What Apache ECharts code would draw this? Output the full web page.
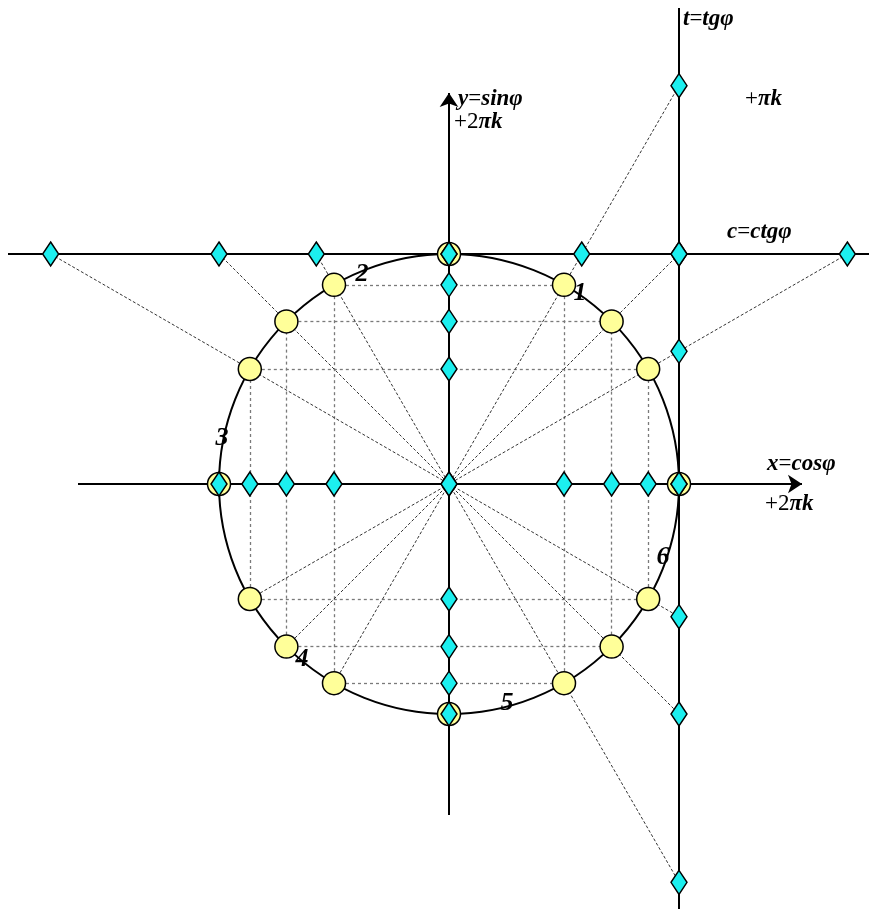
<!DOCTYPE html>
<html><head><meta charset="utf-8">
<script src="https://cdn.jsdelivr.net/npm/echarts@6/dist/echarts.min.js"></script>
<style>html,body{margin:0;padding:0;background:#fff}#c{width:869px;height:909px}</style>
</head><body><div id="c"></div>
<script>
// ---- data ----
const angles    = [0, 30, 45, 60, 90, 120, 135, 150, 180, 210, 225, 240, 270, 300, 315, 330];
const cosValues = [1, 0.866, 0.707, 0.5, 0, -0.5, -0.707, -0.866, -1, -0.866, -0.707, -0.5, 0, 0.5, 0.707, 0.866];
const sinValues = [0, 0.5, 0.707, 0.866, 1, 0.866, 0.707, 0.5, 0, -0.5, -0.707, -0.866, -1, -0.866, -0.707, -0.5];
const cosAxisMarks = [-1, -0.866, -0.707, -0.5, 0, 0.5, 0.707, 0.866, 1];
const sinAxisMarks = [-1, -0.866, -0.707, -0.5, 0, 0.5, 0.707, 0.866, 1];
const tanValues = [1.732, 1, 0.577, 0, -0.577, -1, -1.732];
const ctgValues = [-1.732, -1, -0.577, 0, 0.577, 1, 1.732];
// radial lines: [start point, end point]
const radialLines = [
  [[1.732, 1], [-0.866, -0.5]],
  [[1, 1], [-0.707, -0.707]],
  [[1, 1.732], [-0.5, -0.866]],
  [[-0.577, 1], [1, -1.732]],
  [[-1, 1], [1, -1]],
  [[-1.732, 1], [1, -0.577]]
];
const pointNumbers = ['1', '2', '3', '4', '5', '6'];

// ---- layout ----
const W = 869, H = 909, CX = 449, CY = 484, R = 230;
const FONT = '"Liberation Serif", "Times New Roman", serif';

// projection (grey dotted) lines from the 30/45/60 degree points
const projection = [];
[1, 2, 3].forEach(i => {
  const c = cosValues[i], s = sinValues[i];
  projection.push({coords: [[-c, s], [c, s]]});
  projection.push({coords: [[-c, -s], [c, -s]]});
  projection.push({coords: [[c, -s], [c, s]]});
  projection.push({coords: [[-c, -s], [-c, s]]});
});

const diamondData = []
  .concat(cosAxisMarks.map(v => [v, 0]))
  .concat(sinAxisMarks.map(v => [0, v]))
  .concat(tanValues.map(v => [1, v]))
  .concat(ctgValues.map(v => [v, 1]));

const circleData = angles.map((a, i) => [cosValues[i], sinValues[i]]);

const px = x => (x - CX) / R, py = y => (CY - y) / R;

const axisStyle = {color: '#000', width: 2, type: 'solid', opacity: 1};

const chart = echarts.init(document.getElementById('c'));
const rich = (sz) => ({
  r: {fontFamily: FONT, fontSize: sz, fill: '#000'},
  b: {fontFamily: FONT, fontSize: sz, fontStyle: 'italic', fontWeight: 'bold', fill: '#000'}
});
function label(x, y, text, sz, align) {
  return {type: 'text', x: x, y: y, z: 100,
    style: {text: text, rich: rich(sz), fontFamily: FONT, fontSize: sz, fill: '#000',
      textAlign: align || 'left', textVerticalAlign: 'middle'}};
}
const numPos = [[580, 293], [362, 274], [222, 438], [302, 659], [507, 703], [663, 557]];

chart.setOption({
  animation: false,
  grid: {left: 0, right: 0, top: 0, bottom: 0},
  xAxis: {type: 'value', min: px(0), max: px(W), show: false},
  yAxis: {type: 'value', min: py(H), max: py(0), show: false},
  series: [
    {type: 'lines', coordinateSystem: 'cartesian2d', silent: true, z: 1,
      lineStyle: {color: '#7a7a7a', width: 1.3, type: [3, 3], opacity: 1},
      data: projection},
    {type: 'lines', coordinateSystem: 'cartesian2d', silent: true, z: 1,
      lineStyle: {color: '#333', width: 1, type: [3, 2], opacity: 1},
      data: radialLines.map(l => ({coords: l}))},
    {type: 'lines', coordinateSystem: 'cartesian2d', silent: true, z: 2,
      lineStyle: axisStyle,
      data: [
        {coords: [[px(8), 1], [px(W + 5), 1]]},
        {coords: [[1, py(8)], [1, py(H + 5)]]}
      ]},
    {type: 'lines', coordinateSystem: 'cartesian2d', silent: true, z: 2,
      lineStyle: axisStyle, symbol: ['none', 'arrow'], symbolSize: [12, 14],
      data: [
        {coords: [[px(78), 0], [px(802), 0]]},
        {coords: [[0, py(815)], [0, py(93)]]}
      ]},
    {type: 'custom', coordinateSystem: 'cartesian2d', silent: true, z: 3,
      data: [[0, 0, 1]],
      renderItem: (params, api) => {
        const c = api.coord([api.value(0), api.value(1)]);
        const r = api.size([api.value(2), 0])[0];
        return {type: 'circle', shape: {cx: c[0], cy: c[1], r: r},
          style: {fill: 'none', stroke: '#000', lineWidth: 2}};
      }},
    {type: 'scatter', silent: true, z: 4, symbol: 'circle', symbolSize: 23,
      itemStyle: {color: '#FFFF99', borderColor: '#000', borderWidth: 1.5, opacity: 1},
      data: circleData},
    {type: 'scatter', silent: true, z: 5, symbol: 'diamond', symbolSize: [16, 24],
      itemStyle: {color: '#1CEFEF', borderColor: '#000', borderWidth: 1.5, opacity: 1},
      data: diamondData}
  ],
  graphic: [
    label(458, 99, '{b|y}{r|=}{b|sinφ}', 23),
    label(454, 122, '{r|+2}{b|πk}', 23),
    label(683, 19, '{b|t}{r|=}{b|tgφ}', 23),
    label(745, 99, '{r|+}{b|πk}', 23),
    label(727, 232, '{b|c}{r|=}{b|ctgφ}', 23),
    label(767, 464, '{b|x}{r|=}{b|cosφ}', 23),
    label(765, 504, '{r|+2}{b|πk}', 23)
  ].concat(pointNumbers.map((n, i) => label(numPos[i][0], numPos[i][1], '{b|' + n + '}', 26, 'center')))
});
</script></body></html>
